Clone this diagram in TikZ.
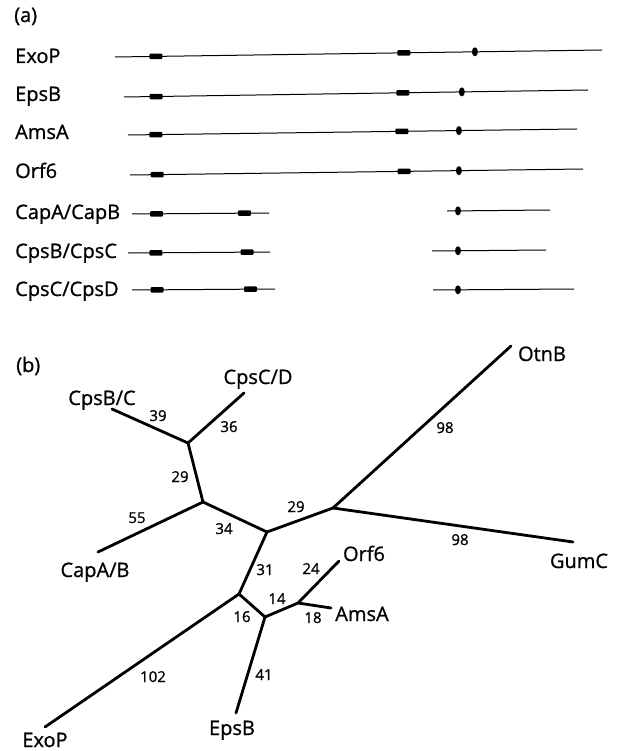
\documentclass[tikz,border=0pt]{standalone}
\usepackage{fontspec}
\setmainfont{Open Sans}[FakeBold=0.9]
\usetikzlibrary{shapes.geometric}
\begin{document}
\begin{tikzpicture}[x=1pt,y=-1pt,
  seq/.style={line width=1pt},
  blk/.style={draw=none,fill=black,rectangle,minimum width=13pt,minimum height=5.5pt,inner sep=0pt,rounded corners=1pt},
  dotm/.style={draw=none,fill=black,ellipse,minimum width=6pt,minimum height=9pt,inner sep=0pt},
  lbl/.style={font=\fontsize{20}{24}\selectfont,anchor=base,inner sep=0pt,text depth=0pt},
  lblw/.style={lbl,anchor=base west},
  num/.style={font=\fontsize{15}{18}\selectfont,anchor=base,inner sep=0pt,text depth=0pt},
  br/.style={line width=2.8pt,line cap=round}]
\useasboundingbox (0,0) rectangle (621,751);

% ---------------- (a) ----------------
\node[lblw] (pa) at (14,22) {(a)};
\node[lblw] (lExoP) at (15,63) {ExoP};
\node[lblw] (lEpsB) at (15,101) {EpsB};
\node[lblw] (lAmsA) at (15,139) {AmsA};
\node[lblw] (lOrf6) at (15,178) {Orf6};
\node[lblw] (lCapAB) at (15,219) {CapA/CapB};
\node[lblw] (lCpsBC) at (15,258) {CpsB/CpsC};
\node[lblw] (lCpsCD) at (15,296) {CpsC/CpsD};

\coordinate (r1a) at (115,57); \coordinate (r1b) at (602,50);
\draw[seq] (r1a) -- node[blk,pos=0.084] (r1k1) {} node[blk,pos=0.593] (r1k2) {} node[dotm,pos=0.739] (r1d) {} (r1b);
\coordinate (r2a) at (124,97); \coordinate (r2b) at (588,90);
\draw[seq] (r2a) -- node[blk,pos=0.069] (r2k1) {} node[blk,pos=0.601] (r2k2) {} node[dotm,pos=0.728] (r2d) {} (r2b);
\coordinate (r3a) at (128,135); \coordinate (r3b) at (577,129);
\draw[seq] (r3a) -- node[blk,pos=0.062] (r3k1) {} node[blk,pos=0.610] (r3k2) {} node[dotm,pos=0.737] (r3d) {} (r3b);
\coordinate (r4a) at (130,175); \coordinate (r4b) at (583,169);
\draw[seq] (r4a) -- node[blk,pos=0.06] (r4k1) {} node[blk,pos=0.605] (r4k2) {} node[dotm,pos=0.726] (r4d) {} (r4b);

\coordinate (r5a) at (132,214); \coordinate (r5b) at (269,213);
\draw[seq] (r5a) -- node[blk,pos=0.179] (r5k1) {} node[blk,pos=0.821] (r5k2) {} (r5b);
\coordinate (r5c) at (447,211); \coordinate (r5e) at (550,210);
\draw[seq] (r5c) -- node[dotm,pos=0.107] (r5d) {} (r5e);

\coordinate (r6a) at (128,253); \coordinate (r6b) at (270,252);
\draw[seq] (r6a) -- node[blk,pos=0.197] (r6k1) {} node[blk,pos=0.838] (r6k2) {} (r6b);
\coordinate (r6c) at (432,251); \coordinate (r6e) at (546,250);
\draw[seq] (r6c) -- node[dotm,pos=0.228] (r6d) {} (r6e);

\coordinate (r7a) at (132,290); \coordinate (r7b) at (275,289);
\draw[seq] (r7a) -- node[blk,pos=0.175] (r7k1) {} node[blk,pos=0.829] (r7k2) {} (r7b);
\coordinate (r7c) at (433,290); \coordinate (r7e) at (574,289);
\draw[seq] (r7c) -- node[dotm,pos=0.177] (r7d) {} (r7e);

% ---------------- (b) ----------------
\node[lblw] (pb) at (16,372) {(b)};

\coordinate (n1) at (188,443);
\coordinate (n2) at (203,502);
\coordinate (n3) at (267,532);
\coordinate (n4) at (333,508);
\coordinate (n5) at (239,594);
\coordinate (n6) at (265,617);
\coordinate (n7) at (298,603);

\coordinate (eCpsBC) at (112,409);
\coordinate (eCpsCD) at (244,393);
\coordinate (eCapAB) at (98,552);
\coordinate (eOtnB) at (511,346);
\coordinate (eGumC) at (573,542);
\coordinate (eExoP) at (45,727);
\coordinate (eEpsB) at (236,713);
\coordinate (eOrf6) at (339,561);
\coordinate (eAmsA) at (331,608);

\draw[br] (eCpsBC) -- (n1);
\draw[br] (eCpsCD) -- (n1);
\draw[br] (n1) -- (n2);
\draw[br] (eCapAB) -- (n2);
\draw[br] (n2) -- (n3);
\draw[br] (n3) -- (n4);
\draw[br] (n4) -- (eOtnB);
\draw[br] (n4) -- (eGumC);
\draw[br] (n3) -- (n5);
\draw[br] (n5) -- (eExoP);
\draw[br] (n5) -- (n6);
\draw[br] (n6) -- (eEpsB);
\draw[br] (n6) -- (n7);
\draw[br] (n7) -- (eOrf6);
\draw[br] (n7) -- (eAmsA);

\node[lbl] (tCpsBC) at (102,405) {CpsB/C};
\node[lbl] (tCpsCD) at (258,384) {CpsC/D};
\node[lbl] (tCapAB) at (95,577) {CapA/B};
\node[lbl] (tOtnB) at (542,361) {OtnB};
\node[lbl] (tGumC) at (579,568) {GumC};
\node[lbl] (tExoP) at (45,747) {ExoP};
\node[lbl] (tEpsB) at (232,735) {EpsB};
\node[lbl] (tOrf6) at (364,561) {Orf6};
\node[lbl] (tAmsA) at (362,621) {AmsA};

\node[num] (w39) at (158,421) {39};
\node[num] (w36) at (229,432) {36};
\node[num] (w29a) at (180,482) {29};
\node[num] (w55) at (137,523) {55};
\node[num] (w34) at (224,534) {34};
\node[num] (w29b) at (296,512) {29};
\node[num] (w98a) at (445,433) {98};
\node[num] (w98b) at (460,545) {98};
\node[num] (w31) at (265,575) {31};
\node[num] (w102) at (153,682) {102};
\node[num] (w16) at (242,622) {16};
\node[num] (w41) at (264,680) {41};
\node[num] (w14) at (277,604) {14};
\node[num] (w24) at (311,574) {24};
\node[num] (w18) at (313,623) {18};
\end{tikzpicture}
\end{document}
